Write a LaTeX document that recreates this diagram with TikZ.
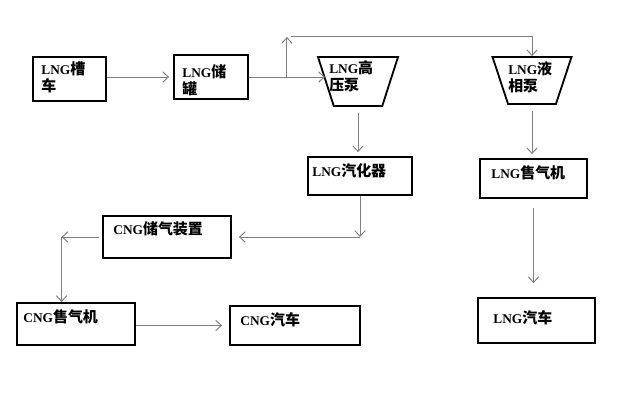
\documentclass[tikz,border=0pt]{standalone}
\usepackage{fontspec}
\setmainfont{Liberation Serif}
\newfontfamily\cjk[Scale=1.12]{Noto Sans CJK SC}
\newcommand{\zh}[1]{{\cjk #1}}
\usetikzlibrary{shapes.geometric,arrows.meta,positioning,calc}

\begin{document}
\begin{tikzpicture}[
    x=0.25mm, y=-0.25mm,
    >={Straight Barb[length=1.4mm,width=2.6mm]},
    size/.style 2 args={minimum width=#1*0.25mm, minimum height=#2*0.25mm},
    box/.style={rectangle, draw, line width=1.3pt, inner sep=0pt},
    pump/.style={trapezium, draw, line width=1.3pt, inner sep=1pt, shape border rotate=180,
        trapezium left angle=72, trapezium right angle=72, trapezium stretches=true},
    txt/.style={anchor=north west, inner sep=0pt, align=left, font=\bfseries\fontsize{9.5}{12}\selectfont},
    link/.style={draw=gray, line width=0.7pt, ->}
]
    \path[fill=white, use as bounding box] (0,0) rectangle (640,400);

    % LNG side
    \node[box, size={73}{44}] (tanker) at (69.5,79) {};
    \node[txt] (tanker-t) at ([shift={(9,5)}]tanker.north west) {LNG\zh{槽}\\\zh{车}};
    \node[box, size={74}{44}] (tank) at (211,77) {};
    \node[txt] (tank-t) at ([shift={(9,10)}]tank.north west) {LNG\zh{储}\\\zh{罐}};

    % Pumps
    \node[pump, size={80}{49}] (hpump) at (358,81.5) {};
    \node[txt] (hpump-t) at ([shift={(-29,-21)}]hpump.center) {LNG\zh{高}\\\zh{压泵}};
    \node[pump, size={79}{47}] (lpump) at (532,80.5) {};
    \node[txt] (lpump-t) at ([shift={(-24,-19)}]lpump.center) {LNG\zh{液}\\\zh{相泵}};

    % Vaporizer and dispensers
    \node[box, size={104}{38}] (vap) at (360,176) {};
    \node[txt] (vap-t) at ([shift={(5,7)}]vap.north west) {LNG\zh{汽化器}};
    \node[box, size={107}{39}] (lngdisp) at (533.5,178.5) {};
    \node[txt] (lngdisp-t) at ([shift={(12,7)}]lngdisp.north west) {LNG\zh{售气机}};

    % CNG side
    \node[box, size={128}{42}] (cngstore) at (167,237) {};
    \node[txt] (cngstore-t) at ([shift={(11,6)}]cngstore.north west) {CNG\zh{储气装置}};
    \node[box, size={118}{42}] (cngdisp) at (76,324) {};
    \node[txt] (cngdisp-t) at ([shift={(7,7)}]cngdisp.north west) {CNG\zh{售气机}};
    \node[box, size={130}{39}] (cngcar) at (295,325.5) {};
    \node[txt] (cngcar-t) at ([shift={(11,7)}]cngcar.north west) {CNG\zh{汽车}};
    \node[box, size={117}{45}] (lngcar) at (536.5,320.5) {};
    \node[txt] (lngcar-t) at ([shift={(16,13)}]lngcar.north west) {LNG\zh{汽车}};

    % Edges
    \draw[link, shorten >=1mm] (tanker.east |- tank.west) -- (tank.west);
    \draw[link] (tank.east) -- (tank.east -| hpump.west);
    \coordinate (split) at ($(tank.east)!0.5!(tank.east -| hpump.west)$);
    \coordinate (top) at ($(split)+(0,-40)$);
    \draw[link] (split) -- (top);
    \draw[link] ($(top)+(4,-1)$) -| (lpump.north);
    \draw[link, shorten <=1.5mm, shorten >=1mm] (hpump.south) -- (hpump.south |- vap.north);
    \draw[link, shorten <=1.5mm, shorten >=1mm] (lpump.south) -- (lpump.south |- lngdisp.north);
    \draw[link, shorten <=2.2mm, shorten >=3.5mm] (lngdisp.south) -- (lngdisp.south |- lngcar.north);
    \coordinate (vapturn) at (vap.south |- cngstore.east);
    \draw[link] (vap.south) -- (vapturn);
    \draw[link, shorten >=1.75mm] (vapturn) -- (cngstore.east);
    \coordinate (dispin) at ($(cngdisp.north west)!0.38!(cngdisp.north east)$);
    \coordinate (storeturn) at (dispin |- cngstore.west);
    \draw[link, shorten <=0.75mm] (cngstore.west) -- (storeturn);
    \draw[link] (storeturn) -- (dispin);
    \draw[link, shorten >=1.75mm] (cngdisp.east |- cngcar.west) -- (cngcar.west);
\end{tikzpicture}
\end{document}
